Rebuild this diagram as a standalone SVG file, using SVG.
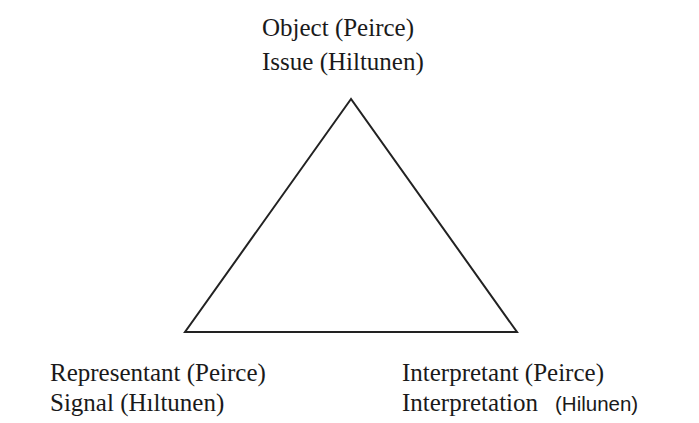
<svg xmlns="http://www.w3.org/2000/svg" width="699" height="423" viewBox="0 0 699 423">
<style>
.t{font-family:"Liberation Serif","Times New Roman",serif;font-size:25px;fill:#1a1a1a}
.s{font-family:"Liberation Sans",Arial,sans-serif;font-size:20.5px;fill:#1a1a1a}
.edge{fill:none;stroke:#222;stroke-width:2;stroke-linejoin:miter}
</style>
<rect width="699" height="423" fill="#fff"/>
<g id="connectors">
<polygon class="edge" points="351,99 185,332 517,332"/>
</g>
<g id="object">
<text class="t" x="262" y="36">Object (Peirce)</text>
<text class="t" x="262" y="70">Issue (Hiltunen)</text>
</g>
<g id="representant">
<text class="t" x="50" y="381">Representant (Peirce)</text>
<text class="t" x="50" y="411">Signal (Hıltunen)</text>
</g>
<g id="interpretant">
<text class="t" x="402" y="381">Interpretant (Peirce)</text>
<text x="402" y="411"><tspan class="t">Interpretation </tspan><tspan class="s" x="555">(Hilunen)</tspan></text>
</g>
</svg>
